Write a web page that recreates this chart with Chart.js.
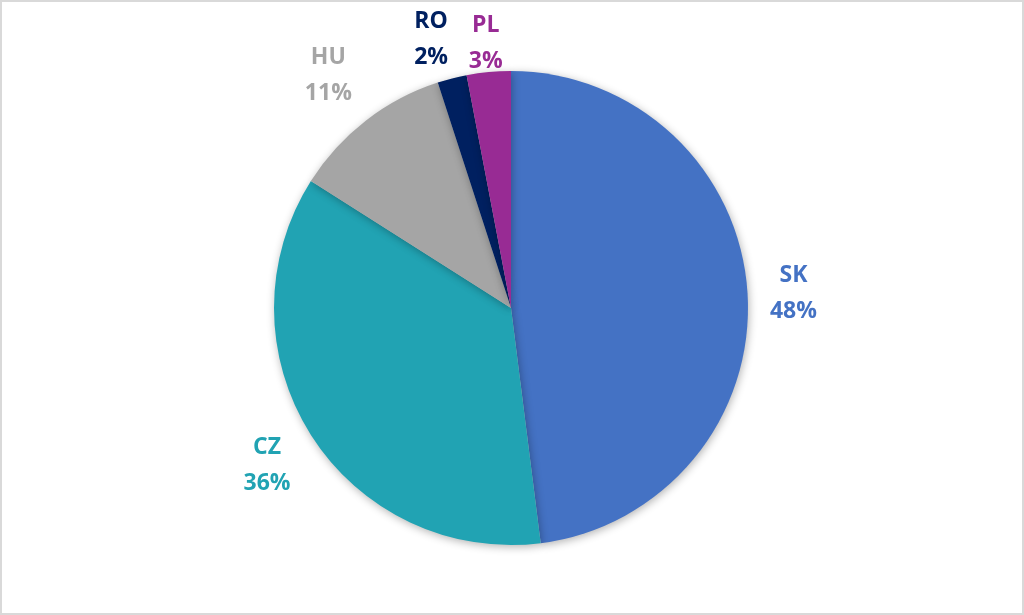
<!DOCTYPE html>
<html>
<head>
<meta charset="utf-8">
<script src="https://cdn.jsdelivr.net/npm/chart.js@4/dist/chart.umd.min.js"></script>
<style>
  html, body { margin: 0; padding: 0; background: #fff; }
  #wrap { width: 1024px; height: 615px; position: relative; }
</style>
</head>
<body>
<div id="wrap"><canvas id="chart"></canvas></div>
<script>
// country shares (%)
const countries = ['SK', 'CZ', 'HU', 'RO', 'PL'];
const shares = [48, 36, 11, 2, 3];
const sliceColors = ['#4472C4', '#21A3B3', '#A5A5A5', '#002060', '#982B94'];

// label placement: distance outside the rim (px) and angle nudge (deg),
// mimicking Excel's best-fit placement of crowded labels
const labelGap = [46, 52, 61, 46, 32];
const labelNudge = [0, 0, 0, -2, 0];

// outer labels: country name + percentage, coloured like the slice
const outerLabels = {
    id: 'outerLabels',
    afterDatasetsDraw(chart) {
        const ctx = chart.ctx;
        const meta = chart.getDatasetMeta(0);
        ctx.save();
        ctx.font = 'bold 23px "Open Sans", Lato, sans-serif';
        ctx.textAlign = 'center';
        ctx.textBaseline = 'middle';
        meta.data.forEach((arc, i) => {
            const mid = (arc.startAngle + arc.endAngle) / 2 + labelNudge[i] * Math.PI / 180;
            const dist = arc.outerRadius + labelGap[i];
            const x = arc.x + Math.cos(mid) * dist;
            const y = arc.y + Math.sin(mid) * dist + 3;
            ctx.fillStyle = sliceColors[i];
            ctx.fillText(countries[i], x, y - 18);
            ctx.fillText(shares[i] + '%', x, y + 18);
        });
        ctx.restore();
    }
};

// soft shadow under the pie
const pieShadow = {
    id: 'pieShadow',
    beforeDatasetsDraw(chart) {
        const ctx = chart.ctx;
        ctx.save();
        ctx.shadowColor = 'rgba(0,0,0,0.3)';
        ctx.shadowBlur = 8;
        ctx.shadowOffsetX = 1;
        ctx.shadowOffsetY = 2;
    },
    afterDatasetsDraw(chart) {
        chart.ctx.restore();
    }
};

// light grey frame around the chart
const frame = {
    id: 'frame',
    afterDraw(chart) {
        const ctx = chart.ctx;
        ctx.save();
        ctx.strokeStyle = '#D9D9D9';
        ctx.lineWidth = 2;
        ctx.strokeRect(1, 1, chart.width - 2, chart.height - 2);
        ctx.restore();
    }
};

const ctx = document.getElementById('chart').getContext('2d');
const shareChart = new Chart(ctx, {
    type: 'pie',
    data: {
        labels: countries,
        datasets: [{
            data: shares,
            backgroundColor: sliceColors,
            borderWidth: 0
        }]
    },
    options: {
        responsive: true,
        maintainAspectRatio: false,
        animation: false,
        layout: {
            padding: { top: 71, bottom: 70, left: 100, right: 102 }
        },
        plugins: {
            legend: { display: false },
            tooltip: { enabled: false }
        }
    },
    plugins: [pieShadow, outerLabels, frame]
});
</script>
</body>
</html>
